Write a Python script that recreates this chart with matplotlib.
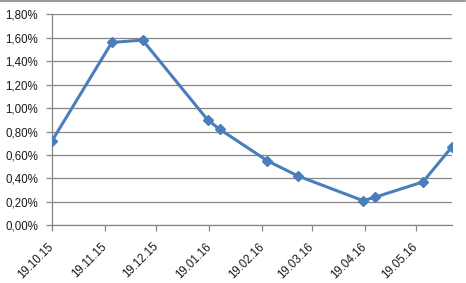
import matplotlib
matplotlib.use('Agg')
import matplotlib.pyplot as plt
from matplotlib.lines import Line2D
import pandas as pd

# data
dates = ['19.10.15', '23.11.15', '11.12.15', '18.01.16', '25.01.16', '22.02.16',
         '11.03.16', '18.04.16', '25.04.16', '23.05.16', '09.06.16']
values = [0.72, 1.56, 1.58, 0.90, 0.82, 0.55, 0.42, 0.21, 0.24, 0.37, 0.67]
tick_dates = ['19.10.15', '19.11.15', '19.12.15', '19.01.16', '19.02.16',
              '19.03.16', '19.04.16', '19.05.16']
y_ticks = [0.0, 0.2, 0.4, 0.6, 0.8, 1.0, 1.2, 1.4, 1.6, 1.8]

x = pd.to_datetime(dates, format='%d.%m.%y')
xt = pd.to_datetime(tick_dates, format='%d.%m.%y')

grey = '#868686'
blue = '#4A7EBB'

plt.rcParams['font.family'] = ['Liberation Sans', 'DejaVu Sans']

fig = plt.figure(figsize=(4.66, 2.83), dpi=100)
ax = fig.add_axes([0.1116, 0.2039, 0.8584, 0.7456])

ax.plot(x, values, color=blue, linewidth=2.2, marker='D', markersize=5.5,
        markerfacecolor=blue, markeredgecolor=blue, zorder=3)

ax.set_xlim(x[0], x[-1])
ax.set_ylim(0, 1.8)
ax.set_yticks(y_ticks)
ax.set_yticklabels([f'{v:.2f}%'.replace('.', ',') for v in y_ticks])
ax.set_xticks(xt)
ax.set_xticklabels(tick_dates, rotation=45, ha='right', va='center',
                   rotation_mode='anchor')

ax.grid(axis='y', color=grey, linewidth=0.9)
ax.set_axisbelow(True)
for side in ['top', 'right']:
    ax.spines[side].set_visible(False)
for side in ['left', 'bottom']:
    ax.spines[side].set_color(grey)
    ax.spines[side].set_linewidth(0.9)

ax.tick_params(axis='both', colors=grey, labelcolor='#1a1a1a', labelsize=8.3,
               length=4, width=0.9, direction='out')
ax.tick_params(axis='x', pad=10)
ax.tick_params(axis='y', pad=6)

# top border of the chart area
fig.add_artist(Line2D([0, 0.998], [0.997, 0.997], color=grey, linewidth=1.2,
                      transform=fig.transFigure))

fig.savefig('out.png', dpi=100)
